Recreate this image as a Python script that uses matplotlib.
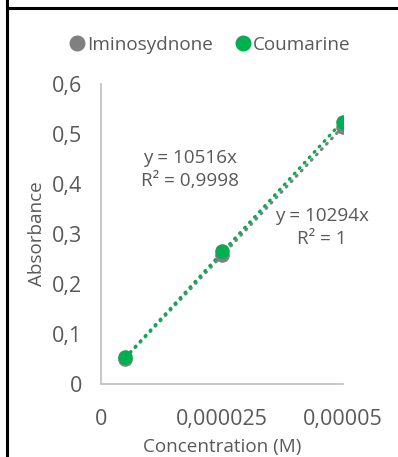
import numpy as np
import matplotlib
matplotlib.use("Agg")
import matplotlib.pyplot as plt
from matplotlib.lines import Line2D

# data
concentration = [0.000005, 0.000025, 0.00005]
iminosydnone = [0.051, 0.259, 0.514]
coumarine = [0.055, 0.267, 0.524]
series_names = ["Iminosydnone", "Coumarine"]
equations = ["y = 10294x\nR² = 1", "y = 10516x\nR² = 0,9998"]

GRAY = "#808080"
GREEN = "#00b050"
TEXT = "#595959"

plt.rcParams['font.family'] = ['Open Sans', 'DejaVu Sans']
NUM_SIZE = 15.5
EQ_SIZE = 13.6
LBL_SIZE = 13.6

fig = plt.figure(figsize=(3.98, 4.57), dpi=100)
ax = fig.add_axes([101 / 398, 1 - 384 / 457, 242 / 398, 300 / 457])

x = np.array(concentration)
for ys, col, z in [(iminosydnone, GRAY, 2), (coumarine, GREEN, 3)]:
    ys = np.array(ys)
    slope = np.sum(x * ys) / np.sum(x * x)  # trendline through origin
    xt = np.array([x.min(), x.max()])
    ax.plot(xt, slope * xt, color=col, lw=2.3, ls=(0, (0.3, 2.0)),
            dash_capstyle='round', zorder=z)
# markers (gray drawn slightly under green)
ax.scatter(x, iminosydnone, s=110, color=GRAY, zorder=4, linewidths=0)
ax.scatter(x, coumarine, s=110, color=GREEN, zorder=5, linewidths=0)

ax.set_xlim(0, 0.00005)
ax.set_ylim(0, 0.6)
ax.set_xticks([0, 0.000025, 0.00005])
ax.set_xticklabels(["0", "0,000025", "0,00005"])
ax.set_yticks(np.arange(0, 0.61, 0.1))
ax.set_yticklabels(["0", "0,1", "0,2", "0,3", "0,4", "0,5", "0,6"])
ax.tick_params(axis='both', length=0, colors=TEXT, labelsize=NUM_SIZE)
ax.tick_params(axis='x', pad=18)
ax.tick_params(axis='y', pad=13.5)
for s in ['top', 'right']:
    ax.spines[s].set_visible(False)
for s in ['left', 'bottom']:
    ax.spines[s].set_color("#bfbfbf")
    ax.spines[s].set_linewidth(1.2)

ax.set_xlabel("Concentration (M)", color=TEXT, labelpad=6, fontsize=LBL_SIZE)
ax.set_ylabel("Absorbance", color=TEXT, labelpad=4, fontsize=LBL_SIZE)

# trendline labels
ax.text(0.0000184, 0.429, equations[1], ha='center', va='center',
        color=TEXT, linespacing=1.3, fontsize=EQ_SIZE)
ax.text(0.0000457, 0.313, equations[0], ha='center', va='center',
        color=TEXT, linespacing=1.3, fontsize=EQ_SIZE)

handles = [Line2D([], [], marker='o', ls='', color=GRAY, markersize=10.5),
           Line2D([], [], marker='o', ls='', color=GREEN, markersize=10.5)]
fig.legend(handles, series_names, loc='center', bbox_to_anchor=(210 / 398, 1 - 45 / 457),
           ncol=2, frameon=False, handlelength=0.8, handletextpad=0.1,
           columnspacing=1.2, labelcolor=TEXT, fontsize=LBL_SIZE)

# black frame lines of the surrounding table cell
fig.add_artist(Line2D([7.5 / 398, 7.5 / 398], [0, 1], color='black', lw=2.2,
                      transform=fig.transFigure))
fig.add_artist(Line2D([7.5 / 398, 1], [1 - 7.5 / 457, 1 - 7.5 / 457], color='black',
                      lw=2.2, transform=fig.transFigure))

fig.savefig("out.png", dpi=100)
